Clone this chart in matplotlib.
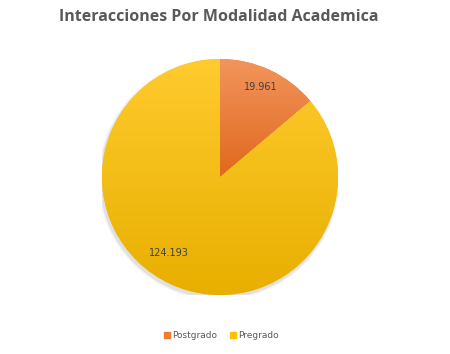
import numpy as np
import matplotlib.pyplot as plt
from matplotlib.colors import LinearSegmentedColormap
from matplotlib.patches import Wedge

categories = ['Postgrado', 'Pregrado']
values = [19961, 124193]
colors = ['#ED7D31', '#FFC000']
grad_top = ['#F2955C', '#FFCB2E']
grad_bot = ['#E0681E', '#E8AF00']

fig = plt.figure(figsize=(4.5, 3.54), dpi=100)
ax = fig.add_axes([102 / 450, 59 / 354, 236 / 450, 236 / 354])

# soft shadow under the pie
for i, a in enumerate([0.05, 0.04, 0.03]):
    sh = Wedge((-0.01, -0.02), 1.0 + 0.008 * (i + 1), 0, 360, color='black', alpha=a, lw=0)
    ax.add_patch(sh)

wedges, texts = ax.pie(values, colors=colors, startangle=90, counterclock=False,
                       labels=[f'{v:,}'.replace(',', '.') for v in values],
                       labeldistance=0.8, textprops={'fontsize': 7, 'color': '#404040'})

for w, c0, c1 in zip(wedges, grad_top, grad_bot):
    cmap = LinearSegmentedColormap.from_list('g', [c1, c0])
    # gradient over the wedge's own vertical extent
    verts = w.get_path().vertices * w.r
    y0, y1 = verts[:, 1].min(), verts[:, 1].max()
    im = ax.imshow(np.linspace(0, 1, 256).reshape(-1, 1), cmap=cmap, origin='lower',
                   extent=[-1, 1, y0, y1], aspect='auto', zorder=w.get_zorder())
    im.set_clip_path(w)

# nudge labels to match Excel placement
dists = [0.84, 0.78]
angles = [65.5, 236]
for t, d, a in zip(texts, dists, angles):
    t.set_position((d * np.cos(np.radians(a)), d * np.sin(np.radians(a))))
    t.set_ha('center')
    t.set_va('center')
    t.set_zorder(5)

ax.set_xlim(-1, 1)
ax.set_ylim(-1, 1)
ax.set_aspect('equal')
ax.axis('off')

fig.text(0.487, 0.952, 'Interacciones Por Modalidad Academica', ha='center', va='center',
         fontsize=11.5, fontweight='bold', color='#595959', family='Open Sans')

handles = [plt.Rectangle((0, 0), 1, 1, color=c) for c in colors]
fig.legend(handles, categories, loc='center', bbox_to_anchor=(0.492, 0.052), ncol=2,
           frameon=False, fontsize=6.5, handlelength=0.7, handleheight=0.7,
           handletextpad=0.2, columnspacing=1.4, labelcolor='#595959')

fig.savefig('out.png', dpi=100)
